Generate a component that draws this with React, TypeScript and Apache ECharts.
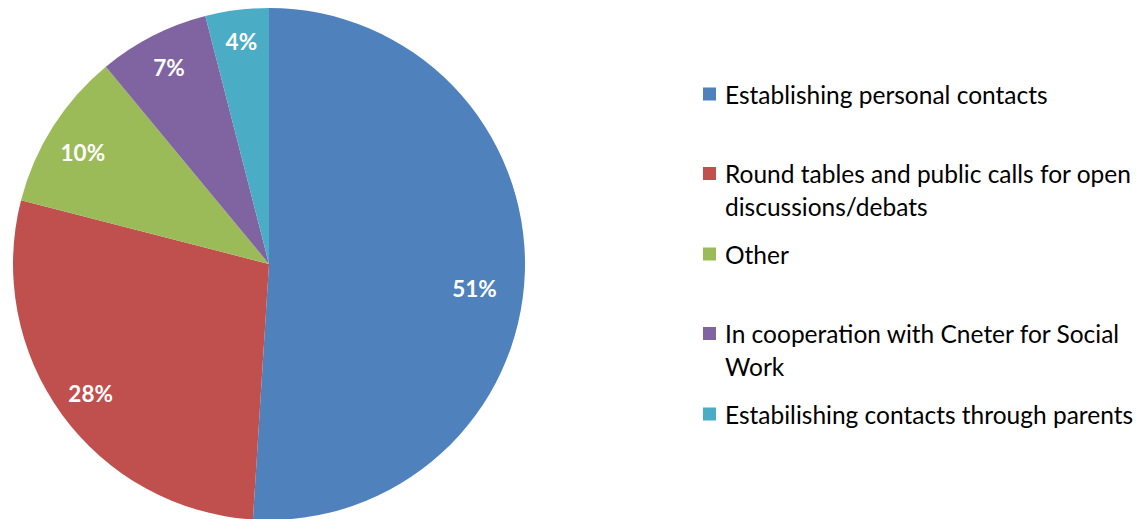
import React, { useEffect, useRef } from "react";
import * as echarts from "echarts";

const categories = [
  "Establishing personal contacts",
  "Round tables and public calls for open discussions/debats",
  "Other",
  "In cooperation with Cneter for Social Work",
  "Estabilishing contacts through parents",
];
const legendLines = [
  ["Establishing personal contacts"],
  ["Round tables and public calls for open", "discussions/debats"],
  ["Other"],
  ["In cooperation with Cneter for Social", "Work"],
  ["Estabilishing contacts through parents"],
];
const values = [51, 28, 10, 7, 4];
const colors = ["#4F81BD", "#C0504D", "#9BBB59", "#8064A2", "#4BACC6"];

const FONT = "Lato, 'Open Sans', sans-serif";

export default function App() {
  const ref = useRef<HTMLDivElement>(null);
  useEffect(() => {
    if (!ref.current) return;
    const chart = echarts.init(ref.current, undefined, { renderer: "svg" });
    const markerCenters = [94, 173.5, 254, 333.5, 414];
    const legends = categories.map((name, i) => {
      const lines = legendLines[i];
      const twoLine = lines.length > 1;
      const shown = twoLine ? [" ", ...lines] : lines;
      return {
        data: [name],
        orient: "vertical",
        left: 703,
        top: markerCenters[i] - (twoLine ? 49.5 : 16.5),
        padding: 0,
        itemWidth: 13,
        itemHeight: 13,
        icon: "rect",
        selectedMode: false,
        formatter: () => shown.map((l) => `{t|${l}}`).join("\n"),
        textStyle: {
          fontFamily: FONT,
          fontSize: 24.5,
          lineHeight: 33,
          color: "#000",
          rich: {
            t: {
              fontFamily: FONT,
              fontSize: 24.5,
              lineHeight: 33,
              height: 33,
              color: "#000",
              padding: [0, 0, 0, 4],
            },
          },
        },
      };
    });
    const data = categories.map((name, i) => ({
      name,
      value: values[i],
      itemStyle: { color: colors[i] },
    }));
    const labelOffsets: ([number, number] | null)[] = [[-15, 18], null, [0, 7], null, [0, -4]];
    chart.setOption({
      animation: false,
      legend: legends,
      series: [
        {
          type: "pie",
          center: [269, 264],
          radius: [0, 256],
          startAngle: 90,
          clockwise: true,
          silent: true,
          label: { show: false },
          labelLine: { show: false },
          data,
        },
        {
          type: "pie",
          center: [269, 264],
          radius: [179, 256],
          startAngle: 90,
          clockwise: true,
          silent: true,
          avoidLabelOverlap: false,
          itemStyle: { color: "rgba(0,0,0,0)" },
          label: {
            show: true,
            position: "inside",
            formatter: "{c}%",
            color: "#fff",
            fontFamily: FONT,
            fontWeight: "bold",
            fontSize: 22.5,
          },
          labelLine: { show: false },
          data: categories.map((name, i) => ({
            name,
            value: values[i],
            label: labelOffsets[i] ? { offset: labelOffsets[i] } : undefined,
          })),
        },
      ],
    });
    return () => chart.dispose();
  }, []);
  return (
    <div
      ref={ref}
      style={{ position: "absolute", left: 0, top: 0, width: 1142, height: 519, background: "#fff" }}
    />
  );
}
